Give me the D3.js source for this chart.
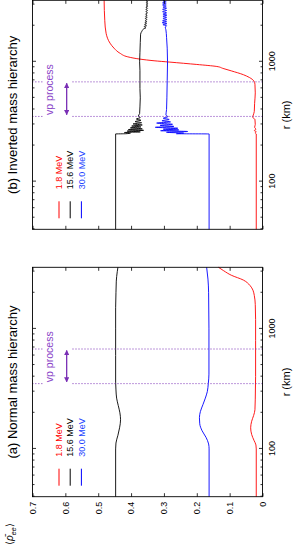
<!DOCTYPE html>
<html>
<head>
<meta charset="utf-8">
<script src="https://cdn.jsdelivr.net/npm/d3@7"></script>
<style>
  html, body { margin: 0; padding: 0; background: #fff; }
  svg { display: block; font-family: "Liberation Sans", Arial, Helvetica, sans-serif; }
</style>
</head>
<body>
<div id="chart"></div>
<script>
// r in km (log axis), values are <rho_ee>
var rMajor = [100, 1000];
var rMinor = [40, 50, 60, 70, 80, 90, 200, 300, 400, 500, 600, 700, 800, 900, 2000, 3000];
var rhoTicks = [0, 0.1, 0.2, 0.3, 0.4, 0.5, 0.6, 0.7];
var energyLabels = ["1.8 MeV", "15.6 MeV", "30.0 MeV"];
var panelTitles = ["(a) Normal mass hierarchy", "(b) Inverted mass hierarchy"];
var vpLines = [350, 680];
var vpArrow = [362, 662];

// (a) normal mass hierarchy
var nh18 = [[40,0.019],[100,0.019],[108,0.02],[118,0.026],[132,0.033],[150,0.036],[170,0.033],[190,0.027],[212,0.023],[260,0.022],[400,0.021],[800,0.021],[1200,0.021],[1600,0.022],[1900,0.025],[2100,0.029],[2300,0.038],[2550,0.058],[2800,0.095],[3050,0.118],[3260,0.134]];
var nh156 = [[40,0.447],[100,0.447],[112,0.446],[130,0.440],[150,0.435],[175,0.432],[200,0.434],[230,0.439],[265,0.444],[310,0.446],[360,0.447],[600,0.447],[1000,0.447],[1500,0.447],[2000,0.446],[2500,0.445],[3000,0.442],[3260,0.440]];
var nh300 = [[40,0.1625],[100,0.1625],[110,0.164],[125,0.172],[142,0.184],[162,0.191],[182,0.192],[205,0.189],[235,0.181],[265,0.174],[300,0.168],[350,0.165],[420,0.163],[1000,0.163],[2000,0.164],[2600,0.166],[3260,0.170]];

// (b) inverted mass hierarchy
var ih18 = [[40,0.019],[250,0.019],[256,0.023],[261,0.019],[267,0.025],[274,0.02],[284,0.024],[300,0.022],[330,0.023],[345,0.03],[360,0.028],[385,0.025],[450,0.024],[550,0.022],[650,0.023],[690,0.026],[740,0.04],[780,0.058],[840,0.095],[880,0.12],[914,0.139],[950,0.2],[994,0.282],[1020,0.33],[1053,0.373],[1100,0.41],[1180,0.434],[1300,0.452],[1430,0.464],[1730,0.476],[2200,0.48],[3260,0.482]];
var ih156 = [[40,0.447],[250,0.447],[251,0.416],[254,0.402],[257,0.420],[260,0.372],[264,0.412],[268,0.362],[272,0.408],[276,0.366],[281,0.402],[286,0.370],[291,0.398],[297,0.366],[303,0.394],[310,0.368],[317,0.388],[325,0.370],[333,0.384],[342,0.372],[352,0.378],[370,0.374],[420,0.373],[500,0.372],[600,0.373],[700,0.373],[850,0.373],[1000,0.374],[1200,0.373],[1450,0.372],[1700,0.371],[1800,0.367],[1880,0.362],[1920,0.355],[1960,0.360],[2000,0.353],[2040,0.359],[2080,0.353],[2120,0.358],[2160,0.352],[2200,0.357],[2250,0.352],[2300,0.357],[2350,0.351],[2400,0.356],[2450,0.351],[2500,0.356],[2560,0.350],[2620,0.355],[2680,0.350],[2740,0.355],[2800,0.350],[2860,0.355],[2920,0.349],[2980,0.354],[3040,0.349],[3100,0.354],[3160,0.349],[3220,0.354],[3260,0.351]];
var ih300 = [[40,0.1625],[250,0.1625],[251,0.262],[254,0.240],[258,0.292],[262,0.228],[266,0.310],[270,0.255],[274,0.302],[279,0.258],[284,0.326],[289,0.270],[295,0.312],[301,0.274],[308,0.322],[315,0.280],[322,0.306],[330,0.284],[338,0.302],[348,0.288],[360,0.294],[400,0.292],[500,0.291],[700,0.290],[1000,0.289],[1300,0.290],[1600,0.292],[1850,0.294],[1950,0.296],[2000,0.292],[2040,0.303],[2080,0.291],[2120,0.305],[2160,0.292],[2200,0.304],[2250,0.291],[2300,0.303],[2350,0.292],[2400,0.303],[2450,0.291],[2500,0.303],[2560,0.292],[2620,0.304],[2680,0.292],[2740,0.304],[2800,0.292],[2860,0.303],[2920,0.293],[2980,0.304],[3040,0.293],[3100,0.304],[3160,0.293],[3220,0.303],[3260,0.298]];

var colors = ["#ff0000", "#000000", "#0000ff"];
var labelColors = ["#ff0000", "#000000", "#2244ff"];
var purple = "#7a2fb5";

// figure is drawn in landscape (549 x 294) then turned to portrait
var W = 549, H = 294;
var svg = d3.select("#chart").append("svg").attr("width", H).attr("height", W);
var fig = svg.append("g").attr("transform", "translate(0," + W + ") rotate(-90)");

var defs = svg.append("defs");
defs.append("marker").attr("id", "ahead").attr("viewBox", "0 0 10 10")
    .attr("refX", 9).attr("refY", 5).attr("markerWidth", 4).attr("markerHeight", 4)
    .attr("orient", "auto-start-reverse")
    .append("path").attr("d", "M0,0 L10,5 L0,10 z").attr("fill", purple);

var yTop = 32.5, yBot = 262.5;
var y = d3.scaleLinear().domain([0, 0.7]).range([yBot, yTop]);

var panels = [
  {x0: 52.3, x1: 281.7, data: [nh18, nh156, nh300], title: panelTitles[0], yLabels: true},
  {x0: 319.7, x1: 548.7, data: [ih18, ih156, ih300], title: panelTitles[1], yLabels: false}
];

panels.forEach(function(p) {
  var x = d3.scaleLog().domain([40, 3260]).range([p.x0, p.x1]);
  var g = fig.append("g");

  // curves
  var line = d3.line().x(function(d) { return x(d[0]); }).y(function(d) { return y(d[1]); })
      .curve(d3.curveMonotoneX);
  p.data.forEach(function(s, i) {
    g.append("path").datum(s).attr("d", line).attr("fill", "none")
        .attr("stroke", colors[i]).attr("stroke-width", 0.9);
  });

  // vp process markers
  vpLines.forEach(function(r) {
    [[0, 0.58], [0.67, 0.7]].forEach(function(seg) {
      g.append("line").attr("x1", x(r)).attr("x2", x(r))
          .attr("y1", y(seg[0])).attr("y2", y(seg[1]))
          .attr("stroke", purple).attr("stroke-width", 1).attr("stroke-dasharray", "1,2");
    });
  });
  g.append("line").attr("x1", x(vpArrow[0])).attr("x2", x(vpArrow[1]))
      .attr("y1", y(0.596)).attr("y2", y(0.596))
      .attr("stroke", purple).attr("stroke-width", 1.3)
      .attr("marker-start", "url(#ahead)").attr("marker-end", "url(#ahead)");
  g.append("text").attr("x", x(vpLines[0]) + 1.5).attr("y", 53)
      .attr("fill", "#8a45c8").style("font-size", "10.5px").text("vp process");

  // legend
  energyLabels.forEach(function(lab, i) {
    var ly = 59 + i * 11.2;
    g.append("line").attr("x1", p.x0 + 11).attr("x2", p.x0 + 28)
        .attr("y1", ly).attr("y2", ly).attr("stroke", colors[i]).attr("stroke-width", 1);
    g.append("text").attr("x", p.x0 + 40).attr("y", ly + 3.2)
        .attr("fill", labelColors[i]).style("font-size", "9px").text(lab);
  });

  // frame
  g.append("rect").attr("x", p.x0).attr("y", yTop)
      .attr("width", p.x1 - p.x0).attr("height", yBot - yTop)
      .attr("fill", "none").attr("stroke", "#000").attr("stroke-width", 0.9);

  // r axis ticks (bottom with labels, top mirrored)
  var bMaj = g.append("g").attr("transform", "translate(0," + yBot + ")")
      .call(d3.axisBottom(x).tickValues(rMajor).tickFormat(d3.format("d"))
            .tickSizeInner(-3.5).tickSizeOuter(0).tickPadding(6));
  var bMin = g.append("g").attr("transform", "translate(0," + yBot + ")")
      .call(d3.axisBottom(x).tickValues(rMinor).tickFormat("").tickSizeInner(-2).tickSizeOuter(0));
  var tMaj = g.append("g").attr("transform", "translate(0," + yTop + ")")
      .call(d3.axisTop(x).tickValues(rMajor).tickFormat("").tickSizeInner(-3.5).tickSizeOuter(0));
  var tMin = g.append("g").attr("transform", "translate(0," + yTop + ")")
      .call(d3.axisTop(x).tickValues(rMinor).tickFormat("").tickSizeInner(-2).tickSizeOuter(0));

  // rho axis ticks (left, right mirrored)
  var lAx = g.append("g").attr("transform", "translate(" + p.x0 + ",0)")
      .call(d3.axisLeft(y).tickValues(rhoTicks)
            .tickFormat(p.yLabels ? function(d) { return d === 0 ? "0" : d3.format(".1f")(d); } : "")
            .tickSizeInner(-3.5).tickSizeOuter(0).tickPadding(5));
  var rAx = g.append("g").attr("transform", "translate(" + p.x1 + ",0)")
      .call(d3.axisRight(y).tickValues(rhoTicks).tickFormat("").tickSizeInner(-3.5).tickSizeOuter(0));

  [bMaj, bMin, tMaj, tMin, lAx, rAx].forEach(function(a) {
    a.select(".domain").remove();
    a.selectAll(".tick line").attr("stroke", "#000").attr("stroke-width", 0.8);
    a.selectAll("text").attr("fill", "#000").style("font-size", "9px")
        .style("font-family", "'Liberation Sans', Arial, sans-serif");
  });

  // labels
  var cx = (p.x0 + p.x1) / 2;
  g.append("text").attr("x", cx).attr("y", 17).attr("text-anchor", "middle")
      .style("font-size", "13px").text(p.title);
  g.append("text").attr("x", cx).attr("y", 290).attr("text-anchor", "middle")
      .style("font-size", "11px").text("r (km)");
});

// y label, top-left corner of the landscape figure
var yl = fig.append("text").attr("x", 4).attr("y", 13).style("font-size", "10px");
yl.append("tspan").text("\u27E8");
yl.append("tspan").style("font-style", "italic").text("\u03C1\u0304");
yl.append("tspan").style("font-style", "italic").style("font-size", "7px").attr("dy", 2.5).text("ee");
yl.append("tspan").attr("dy", -2.5).text("\u27E9");
</script>
</body>
</html>
